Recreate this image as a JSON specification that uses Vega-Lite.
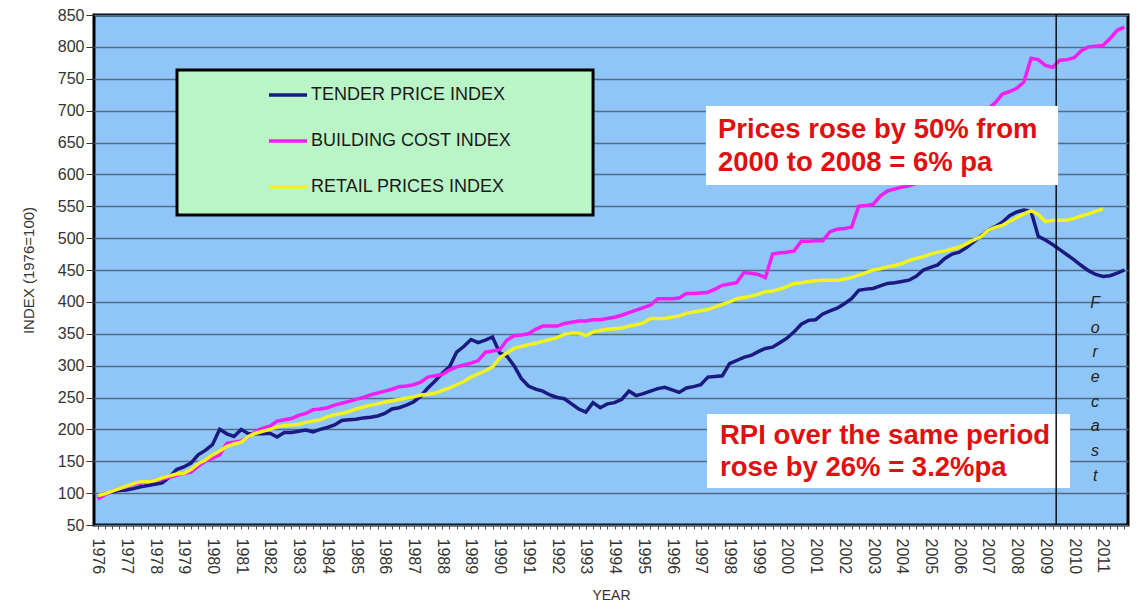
{
  "$schema": "https://vega.github.io/schema/vega-lite/v6.json",
  "width": 1034,
  "height": 510,
  "autosize": {"type": "none"},
  "padding": {"left": 94, "top": 15, "right": 15, "bottom": 82},
  "background": "#ffffff",
  "config": {
    "font": "Liberation Sans",
    "view": {"fill": "#90c6f7", "stroke": "#000000", "strokeWidth": 3},
    "axis": {"labelOverlap": false, "labelBound": false, "labelFlush": false, "domain": false, "titleFontWeight": "normal", "titleColor": "#333333", "labelColor": "#333333", "labelFontSize": 16, "titleFontSize": 14},
    "axisX": {"labelAngle": 90, "labelPadding": 9, "tickSize": 4, "tickColor": "#555555", "grid": false, "titlePadding": 15},
    "axisY": {"labelPadding": 2, "tickSize": 8, "tickColor": "#333333", "grid": true, "gridColor": "#4f6b86", "gridWidth": 1.5, "titlePadding": 21, "titleFontSize": 15}
  },
  "datasets": {
    "idx": [
      {"t":1976,"tpi":95,"bci":91,"rpi":96},{"t":1976.25,"tpi":99,"bci":97,"rpi":99},{"t":1976.5,"tpi":102,"bci":103,"rpi":103},{"t":1976.75,"tpi":104,"bci":107,"rpi":107},
      {"t":1977,"tpi":105,"bci":110,"rpi":111},{"t":1977.25,"tpi":107,"bci":114,"rpi":115},{"t":1977.5,"tpi":110,"bci":116,"rpi":118},{"t":1977.75,"tpi":112,"bci":118,"rpi":118},
      {"t":1978,"tpi":114,"bci":120,"rpi":120},{"t":1978.25,"tpi":116,"bci":122,"rpi":124},{"t":1978.5,"tpi":125,"bci":125,"rpi":127},{"t":1978.75,"tpi":137,"bci":128,"rpi":130},
      {"t":1979,"tpi":141,"bci":131,"rpi":131},{"t":1979.25,"tpi":147,"bci":133,"rpi":137},{"t":1979.5,"tpi":160,"bci":142,"rpi":146},{"t":1979.75,"tpi":167,"bci":150,"rpi":152},
      {"t":1980,"tpi":176,"bci":155,"rpi":160},{"t":1980.25,"tpi":200,"bci":160,"rpi":166},{"t":1980.5,"tpi":193,"bci":178,"rpi":173},{"t":1980.75,"tpi":189,"bci":180,"rpi":177},
      {"t":1981,"tpi":200,"bci":182,"rpi":180},{"t":1981.25,"tpi":193,"bci":188,"rpi":189},{"t":1981.5,"tpi":193,"bci":197,"rpi":194},{"t":1981.75,"tpi":193,"bci":202,"rpi":197},
      {"t":1982,"tpi":194,"bci":205,"rpi":200},{"t":1982.25,"tpi":188,"bci":213,"rpi":204},{"t":1982.5,"tpi":195,"bci":215,"rpi":206},{"t":1982.75,"tpi":195,"bci":217,"rpi":207},
      {"t":1983,"tpi":197,"bci":222,"rpi":208},{"t":1983.25,"tpi":199,"bci":225,"rpi":211},{"t":1983.5,"tpi":196,"bci":231,"rpi":213},{"t":1983.75,"tpi":200,"bci":232,"rpi":215},
      {"t":1984,"tpi":203,"bci":234,"rpi":220},{"t":1984.25,"tpi":207,"bci":238,"rpi":223},{"t":1984.5,"tpi":214,"bci":241,"rpi":225},{"t":1984.75,"tpi":215,"bci":244,"rpi":228},
      {"t":1985,"tpi":216,"bci":247,"rpi":232},{"t":1985.25,"tpi":218,"bci":250,"rpi":235},{"t":1985.5,"tpi":219,"bci":254,"rpi":238},{"t":1985.75,"tpi":221,"bci":257,"rpi":240},
      {"t":1986,"tpi":225,"bci":260,"rpi":243},{"t":1986.25,"tpi":232,"bci":263,"rpi":245},{"t":1986.5,"tpi":234,"bci":267,"rpi":247},{"t":1986.75,"tpi":238,"bci":268,"rpi":249},
      {"t":1987,"tpi":243,"bci":270,"rpi":251},{"t":1987.25,"tpi":252,"bci":274,"rpi":254},{"t":1987.5,"tpi":265,"bci":282,"rpi":255},{"t":1987.75,"tpi":276,"bci":284,"rpi":257},
      {"t":1988,"tpi":288,"bci":286,"rpi":261},{"t":1988.25,"tpi":298,"bci":293,"rpi":265},{"t":1988.5,"tpi":321,"bci":298,"rpi":270},{"t":1988.75,"tpi":330,"bci":301,"rpi":275},
      {"t":1989,"tpi":341,"bci":304,"rpi":282},{"t":1989.25,"tpi":336,"bci":308,"rpi":287},{"t":1989.5,"tpi":340,"bci":321,"rpi":292},{"t":1989.75,"tpi":345,"bci":323,"rpi":298},
      {"t":1990,"tpi":320,"bci":325,"rpi":312},{"t":1990.25,"tpi":315,"bci":340,"rpi":320},{"t":1990.5,"tpi":300,"bci":347,"rpi":327},{"t":1990.75,"tpi":280,"bci":348,"rpi":330},
      {"t":1991,"tpi":268,"bci":350,"rpi":333},{"t":1991.25,"tpi":263,"bci":357,"rpi":335},{"t":1991.5,"tpi":260,"bci":362,"rpi":338},{"t":1991.75,"tpi":254,"bci":362,"rpi":341},
      {"t":1992,"tpi":250,"bci":362,"rpi":344},{"t":1992.25,"tpi":248,"bci":366,"rpi":349},{"t":1992.5,"tpi":240,"bci":368,"rpi":351},{"t":1992.75,"tpi":232,"bci":370,"rpi":351},
      {"t":1993,"tpi":227,"bci":370,"rpi":347},{"t":1993.25,"tpi":242,"bci":372,"rpi":353},{"t":1993.5,"tpi":234,"bci":372,"rpi":355},{"t":1993.75,"tpi":240,"bci":374,"rpi":357},
      {"t":1994,"tpi":242,"bci":376,"rpi":358},{"t":1994.25,"tpi":247,"bci":379,"rpi":359},{"t":1994.5,"tpi":260,"bci":383,"rpi":362},{"t":1994.75,"tpi":253,"bci":387,"rpi":364},
      {"t":1995,"tpi":256,"bci":391,"rpi":367},{"t":1995.25,"tpi":260,"bci":395,"rpi":374},{"t":1995.5,"tpi":264,"bci":405,"rpi":374},{"t":1995.75,"tpi":266,"bci":405,"rpi":374},
      {"t":1996,"tpi":262,"bci":405,"rpi":376},{"t":1996.25,"tpi":258,"bci":406,"rpi":378},{"t":1996.5,"tpi":265,"bci":413,"rpi":382},{"t":1996.75,"tpi":267,"bci":413,"rpi":384},
      {"t":1997,"tpi":270,"bci":414,"rpi":386},{"t":1997.25,"tpi":282,"bci":415,"rpi":388},{"t":1997.5,"tpi":283,"bci":420,"rpi":392},{"t":1997.75,"tpi":284,"bci":426,"rpi":396},
      {"t":1998,"tpi":303,"bci":428,"rpi":400},{"t":1998.25,"tpi":308,"bci":430,"rpi":405},{"t":1998.5,"tpi":313,"bci":446,"rpi":407},{"t":1998.75,"tpi":316,"bci":445,"rpi":409},
      {"t":1999,"tpi":322,"bci":443,"rpi":412},{"t":1999.25,"tpi":327,"bci":438,"rpi":416},{"t":1999.5,"tpi":329,"bci":475,"rpi":417},{"t":1999.75,"tpi":336,"bci":477,"rpi":420},
      {"t":2000,"tpi":343,"bci":478,"rpi":424},{"t":2000.25,"tpi":353,"bci":480,"rpi":429},{"t":2000.5,"tpi":365,"bci":495,"rpi":430},{"t":2000.75,"tpi":371,"bci":495,"rpi":432},
      {"t":2001,"tpi":372,"bci":496,"rpi":433},{"t":2001.25,"tpi":381,"bci":496,"rpi":434},{"t":2001.5,"tpi":386,"bci":510,"rpi":434},{"t":2001.75,"tpi":390,"bci":514,"rpi":434},
      {"t":2002,"tpi":397,"bci":515,"rpi":436},{"t":2002.25,"tpi":405,"bci":517,"rpi":438},{"t":2002.5,"tpi":418,"bci":550,"rpi":442},{"t":2002.75,"tpi":420,"bci":551,"rpi":446},
      {"t":2003,"tpi":421,"bci":553,"rpi":450},{"t":2003.25,"tpi":425,"bci":566,"rpi":452},{"t":2003.5,"tpi":429,"bci":574,"rpi":455},{"t":2003.75,"tpi":430,"bci":577,"rpi":457},
      {"t":2004,"tpi":432,"bci":580,"rpi":460},{"t":2004.25,"tpi":434,"bci":582,"rpi":465},{"t":2004.5,"tpi":440,"bci":586,"rpi":468},{"t":2004.75,"tpi":450,"bci":592,"rpi":471},
      {"t":2005,"tpi":454,"bci":600,"rpi":475},{"t":2005.25,"tpi":458,"bci":614,"rpi":478},{"t":2005.5,"tpi":468,"bci":628,"rpi":480},{"t":2005.75,"tpi":475,"bci":638,"rpi":483},
      {"t":2006,"tpi":478,"bci":650,"rpi":486},{"t":2006.25,"tpi":485,"bci":663,"rpi":491},{"t":2006.5,"tpi":494,"bci":677,"rpi":497},{"t":2006.75,"tpi":503,"bci":690,"rpi":502},
      {"t":2007,"tpi":512,"bci":703,"rpi":512},{"t":2007.25,"tpi":518,"bci":712,"rpi":517},{"t":2007.5,"tpi":525,"bci":726,"rpi":520},{"t":2007.75,"tpi":535,"bci":730,"rpi":526},
      {"t":2008,"tpi":541,"bci":735,"rpi":532},{"t":2008.25,"tpi":544,"bci":745,"rpi":538},{"t":2008.5,"tpi":542,"bci":782,"rpi":543},{"t":2008.75,"tpi":503,"bci":780,"rpi":537},
      {"t":2009,"tpi":497,"bci":771,"rpi":526},{"t":2009.25,"tpi":490,"bci":768,"rpi":528},{"t":2009.5,"tpi":482,"bci":779,"rpi":528},{"t":2009.75,"tpi":474,"bci":780,"rpi":528},
      {"t":2010,"tpi":466,"bci":783,"rpi":531},{"t":2010.25,"tpi":457,"bci":794,"rpi":535},{"t":2010.5,"tpi":449,"bci":800,"rpi":538},{"t":2010.75,"tpi":443,"bci":801,"rpi":542},
      {"t":2011,"tpi":440,"bci":802,"rpi":546},{"t":2011.25,"tpi":441,"bci":813},{"t":2011.5,"tpi":445,"bci":826},{"t":2011.75,"tpi":450,"bci":831}
    ]
  },
  "layer": [
    {
      "data": {"name": "idx"},
      "transform": [{"fold": ["tpi", "bci", "rpi"], "as": ["series", "value"]}],
      "mark": {"type": "line", "strokeWidth": 3.5},
      "encoding": {
        "x": {
          "field": "t", "type": "quantitative",
          "scale": {"domain": [1975.875, 2011.875], "nice": false, "zero": false},
          "axis": {
            "values": [1976,1976.25,1976.5,1976.75,1977,1977.25,1977.5,1977.75,1978,1978.25,1978.5,1978.75,1979,1979.25,1979.5,1979.75,1980,1980.25,1980.5,1980.75,1981,1981.25,1981.5,1981.75,1982,1982.25,1982.5,1982.75,1983,1983.25,1983.5,1983.75,1984,1984.25,1984.5,1984.75,1985,1985.25,1985.5,1985.75,1986,1986.25,1986.5,1986.75,1987,1987.25,1987.5,1987.75,1988,1988.25,1988.5,1988.75,1989,1989.25,1989.5,1989.75,1990,1990.25,1990.5,1990.75,1991,1991.25,1991.5,1991.75,1992,1992.25,1992.5,1992.75,1993,1993.25,1993.5,1993.75,1994,1994.25,1994.5,1994.75,1995,1995.25,1995.5,1995.75,1996,1996.25,1996.5,1996.75,1997,1997.25,1997.5,1997.75,1998,1998.25,1998.5,1998.75,1999,1999.25,1999.5,1999.75,2000,2000.25,2000.5,2000.75,2001,2001.25,2001.5,2001.75,2002,2002.25,2002.5,2002.75,2003,2003.25,2003.5,2003.75,2004,2004.25,2004.5,2004.75,2005,2005.25,2005.5,2005.75,2006,2006.25,2006.5,2006.75,2007,2007.25,2007.5,2007.75,2008,2008.25,2008.5,2008.75,2009,2009.25,2009.5,2009.75,2010,2010.25,2010.5,2010.75,2011,2011.25,2011.5,2011.75],
            "tickCount": 400,
            "labelExpr": "datum.value % 1 == 0 ? format(datum.value, 'd') : ''",
            "labelOverlap": false,
            "title": "YEAR"
          }
        },
        "y": {
          "field": "value", "type": "quantitative",
          "scale": {"domain": [50, 850], "nice": false, "zero": false},
          "axis": {
            "values": [50,100,150,200,250,300,350,400,450,500,550,600,650,700,750,800,850],
            "tickCount": 40,
            "labelOverlap": false,
            "title": "INDEX (1976=100)"
          }
        },
        "color": {
          "field": "series", "type": "nominal",
          "scale": {"domain": ["tpi", "bci", "rpi"], "range": ["#1a1a80", "#f21ef2", "#f2f21c"]},
          "legend": {
            "orient": "none",
            "legendX": 173,
            "legendY": 59,
            "title": null,
            "symbolType": "stroke",
            "symbolSize": 1444,
            "symbolStrokeWidth": 3.5,
            "labelFontSize": 18,
            "labelColor": "#1a1a1a",
            "labelOffset": 2,
            "labelLimit": 400,
            "rowPadding": 16,
            "padding": 0,
            "labelExpr": "datum.value == 'tpi' ? 'TENDER PRICE INDEX' : datum.value == 'bci' ? 'BUILDING COST INDEX' : 'RETAIL PRICES INDEX'"
          }
        }
      }
    },
    {
      "data": {"values": [{}]},
      "mark": {"type": "rect", "fill": "#ffffff"},
      "encoding": {
        "x": {"datum": 1997.217, "type": "quantitative"},
        "x2": {"datum": 2009.856},
        "y": {"datum": 224.1, "type": "quantitative"},
        "y2": {"datum": 108}
      }
    },
    {
      "data": {"values": [{}]},
      "mark": {"type": "text", "text": ["RPI over the same period", "rose by 26% = 3.2%pa"], "font": "Liberation Sans", "fontSize": 27.5, "fontWeight": "bold", "fill": "#e01010", "align": "left", "baseline": "alphabetic", "lineHeight": 32.5},
      "encoding": {
        "x": {"datum": 1997.67, "type": "quantitative"},
        "y": {"datum": 177.1, "type": "quantitative"}
      }
    },
    {
      "data": {"values": [{}]},
      "mark": {"type": "rule", "stroke": "#111111", "strokeWidth": 1.5},
      "encoding": {
        "x": {"datum": 2009.375, "type": "quantitative"}
      }
    },
    {
      "data": {"values": [{}]},
      "mark": {"type": "rect", "fill": "#ffffff"},
      "encoding": {
        "x": {"datum": 1997.18, "type": "quantitative"},
        "x2": {"datum": 2009.44},
        "y": {"datum": 707.3, "type": "quantitative"},
        "y2": {"datum": 583.3}
      }
    },
    {
      "data": {"values": [{}]},
      "mark": {"type": "text", "text": ["Prices rose by 50% from", "2000 to 2008 = 6% pa"], "font": "Liberation Sans", "fontSize": 27.5, "fontWeight": "bold", "fill": "#e01010", "align": "left", "baseline": "alphabetic", "lineHeight": 33},
      "encoding": {
        "x": {"datum": 1997.6, "type": "quantitative"},
        "y": {"datum": 656.6, "type": "quantitative"}
      }
    },
    {
      "data": {"values": [{}]},
      "mark": {"type": "text", "text": ["F", "o", "r", "e", "c", "a", "s", "t"], "font": "Liberation Sans", "fontSize": 16, "fontStyle": "italic", "fill": "#222222", "align": "center", "baseline": "alphabetic", "lineHeight": 24.7},
      "encoding": {
        "x": {"datum": 2010.73, "type": "quantitative"},
        "y": {"datum": 390.4, "type": "quantitative"}
      }
    },
    {
      "data": {"values": [{}]},
      "mark": {"type": "rect", "fill": "#baf5c8", "stroke": "#000000", "strokeWidth": 3},
      "encoding": {
        "x": {"datum": 1978.765, "type": "quantitative"},
        "x2": {"datum": 1993.25},
        "y": {"datum": 763.7, "type": "quantitative"},
        "y2": {"datum": 536.3}
      }
    }
  ]
}
